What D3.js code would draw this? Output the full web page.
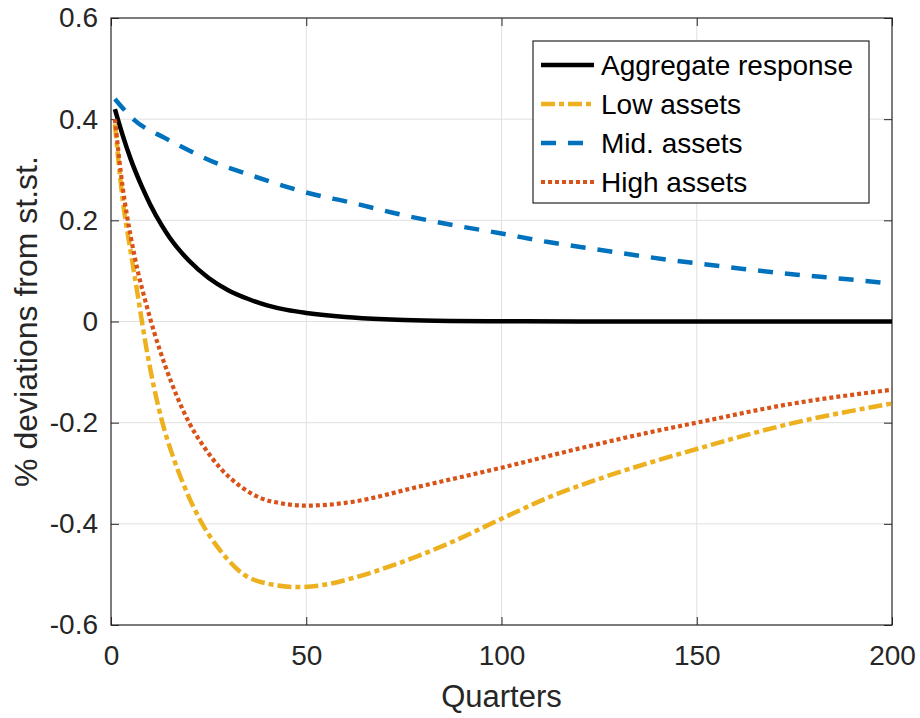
<!DOCTYPE html>
<html>
<head>
<meta charset="utf-8">
<script src="https://cdn.jsdelivr.net/npm/d3@7"></script>
<style>
  body { margin: 0; background: #fff; }
  text { font-family: "Liberation Sans", Arial, Helvetica, sans-serif; }
</style>
</head>
<body>
<div id="vis_container"></div>
<script>
// values, [quarter, % deviation]
var aggregateResponse = [[1,0.42],[3,0.368],[5,0.322],[8,0.265],[10,0.232],[13,0.19],[15,0.166],[20,0.12],
  [25,0.086],[30,0.062],[35,0.045],[40,0.032],[45,0.023],[50,0.017],[60,0.009],[70,0.0045],[80,0.002],
  [100,0.0005],[120,0],[160,0],[200,0]];
var lowAssets = [[1,0.39],[3,0.24],[5,0.14],[7,0.045],[9,-0.05],[11,-0.13],[13,-0.195],[16,-0.27],[19,-0.33],
  [23,-0.395],[28,-0.453],[34,-0.5],[40,-0.518],[48,-0.525],[55,-0.52],[62,-0.507],[74,-0.477],[87,-0.437],
  [100,-0.39],[112,-0.348],[125,-0.311],[138,-0.279],[150,-0.252],[174,-0.202],[200,-0.162]];
var midAssets = [[1,0.44],[6,0.398],[14,0.362],[20,0.338],[27,0.313],[34,0.294],[41,0.276],[51,0.253],
  [61,0.236],[75,0.21],[88,0.19],[100,0.174],[112,0.157],[125,0.142],[138,0.127],[150,0.115],[162,0.104],
  [175,0.093],[188,0.084],[200,0.075]];
var highAssets = [[1,0.40],[3,0.265],[5,0.17],[7,0.095],[9,0.035],[11,-0.02],[14,-0.09],[17,-0.15],[20,-0.2],
  [24,-0.25],[28,-0.29],[33,-0.325],[38,-0.348],[44,-0.36],[50,-0.364],[56,-0.362],[63,-0.355],[78,-0.328],
  [100,-0.289],[121,-0.249],[138,-0.219],[150,-0.2],[174,-0.163],[200,-0.135]];

var seriesNames = ["Aggregate response", "Low assets", "Mid. assets", "High assets"];
var xTicks = [0, 50, 100, 150, 200];
var yTicks = [-0.6, -0.4, -0.2, 0, 0.2, 0.4, 0.6];

function buildChart() {
    var width = 920;
    var height = 718;
    var mLeft = 111, mRight = 892, mTop = 18, mBottom = 625;
    var axisColor = "#262626";

    var svg = d3.select("#vis_container")
        .append("svg")
        .attr("width", width)
        .attr("height", height);

    // scales
    var x = d3.scaleLinear().domain([0, 200]).range([mLeft, mRight]);
    var y = d3.scaleLinear().domain([-0.6, 0.6]).range([mBottom, mTop]);

    // grid lines
    svg.append("g").selectAll("line")
        .data(xTicks.slice(1, -1))
        .enter().append("line")
        .attr("x1", function (d) { return x(d); })
        .attr("x2", function (d) { return x(d); })
        .attr("y1", mTop).attr("y2", mBottom)
        .attr("stroke", "#e0e0e0").attr("stroke-width", 1);

    svg.append("g").selectAll("line")
        .data(yTicks.slice(1, -1))
        .enter().append("line")
        .attr("y1", function (d) { return y(d); })
        .attr("y2", function (d) { return y(d); })
        .attr("x1", mLeft).attr("x2", mRight)
        .attr("stroke", "#e0e0e0").attr("stroke-width", 1);

    var fmt = function (d) { return Math.abs(d) < 1e-9 ? "0" : d.toFixed(1); };

    // axes, ticks pointing inward
    var xAxis = svg.append("g")
        .attr("transform", "translate(0," + mBottom + ")")
        .call(d3.axisBottom(x).tickValues(xTicks).tickSize(-8).tickPadding(20));
    var yAxis = svg.append("g")
        .attr("transform", "translate(" + mLeft + ",0)")
        .call(d3.axisLeft(y).tickValues(yTicks).tickSize(-8).tickPadding(13).tickFormat(fmt));
    var xTop = svg.append("g")
        .attr("transform", "translate(0," + mTop + ")")
        .call(d3.axisTop(x).tickValues(xTicks).tickSize(-8).tickFormat(""));
    var yRight = svg.append("g")
        .attr("transform", "translate(" + mRight + ",0)")
        .call(d3.axisRight(y).tickValues(yTicks).tickSize(-8).tickFormat(""));

    [xAxis, yAxis, xTop, yRight].forEach(function (g) {
        g.select(".domain").remove();
        g.selectAll(".tick line").attr("stroke", axisColor);
        g.selectAll(".tick text")
            .attr("fill", axisColor)
            .style("font-size", "28px");
    });

    // box
    svg.append("rect")
        .attr("x", mLeft).attr("y", mTop)
        .attr("width", mRight - mLeft).attr("height", mBottom - mTop)
        .attr("fill", "none")
        .attr("stroke", axisColor)
        .attr("stroke-width", 1.2);

    // axis labels
    svg.append("text")
        .attr("x", (mLeft + mRight) / 2)
        .attr("y", 707)
        .style("text-anchor", "middle")
        .style("font-size", "31px")
        .attr("fill", axisColor)
        .text("Quarters");

    svg.append("text")
        .attr("transform", "translate(37," + ((mTop + mBottom) / 2) + ") rotate(-90)")
        .style("text-anchor", "middle")
        .style("font-size", "32px")
        .attr("fill", axisColor)
        .text("% deviations from st.st.");

    // lines
    var styles = [
        { data: aggregateResponse, color: "#000000", dash: null, w: 4.5 },
        { data: lowAssets, color: "#EDB120", dash: "14,4,5,4", w: 4.5 },
        { data: midAssets, color: "#0072BD", dash: "15,12", w: 4.5 },
        { data: highAssets, color: "#D95319", dash: "4,3", w: 4.2 }
    ];

    svg.append("clipPath").attr("id", "clip")
        .append("rect")
        .attr("x", mLeft).attr("y", mTop)
        .attr("width", mRight - mLeft).attr("height", mBottom - mTop);

    var lineFunc = d3.line()
        .x(function (d) { return x(d[0]); })
        .y(function (d) { return y(d[1]); })
        .curve(d3.curveMonotoneX);

    styles.forEach(function (s) {
        svg.append("path")
            .attr("d", lineFunc(s.data))
            .attr("clip-path", "url(#clip)")
            .attr("stroke", s.color)
            .attr("stroke-width", s.w)
            .attr("stroke-dasharray", s.dash)
            .attr("fill", "none");
    });

    // legend
    var legend = svg.append("g");
    legend.append("rect")
        .attr("x", 533).attr("y", 41)
        .attr("width", 336).attr("height", 162)
        .attr("fill", "#fff")
        .attr("stroke", axisColor)
        .attr("stroke-width", 1.2);

    seriesNames.forEach(function (name, i) {
        var yy = 65 + i * 39;
        legend.append("line")
            .attr("x1", 541).attr("x2", 594)
            .attr("y1", yy).attr("y2", yy)
            .attr("stroke", styles[i].color)
            .attr("stroke-width", styles[i].w)
            .attr("stroke-dasharray", styles[i].dash);
        legend.append("text")
            .attr("x", 601)
            .attr("y", yy)
            .attr("dy", "0.35em")
            .style("font-size", "28px")
            .attr("fill", "#000")
            .text(name);
    });
}

buildChart();
</script>
</body>
</html>
